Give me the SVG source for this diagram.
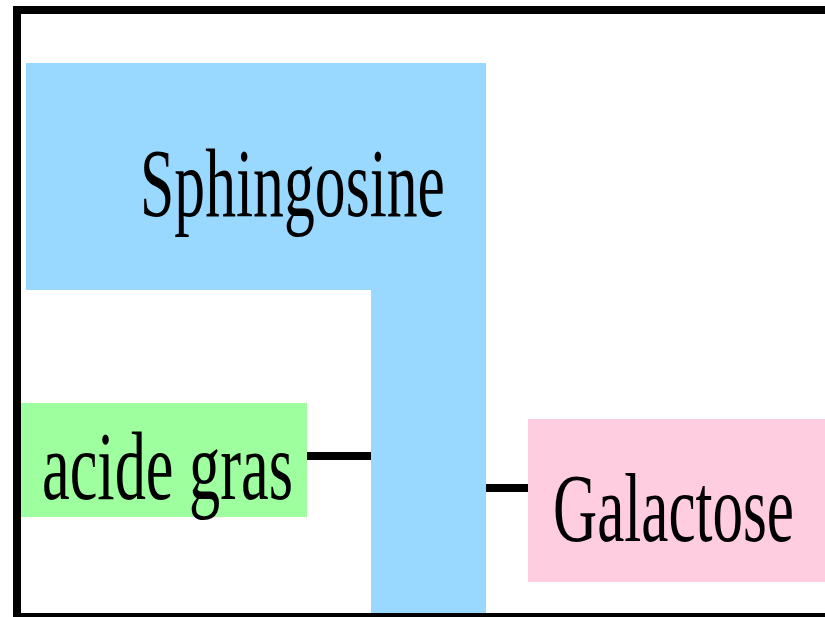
<svg xmlns="http://www.w3.org/2000/svg" width="825" height="617" viewBox="0 0 825 617">
<style>
.lbl{font-family:"Liberation Serif","Times New Roman",serif;font-size:98px;fill:#000}
.conn{stroke:#000;stroke-width:8;fill:none}
</style>
<rect x="0" y="0" width="825" height="617" fill="#fff"/>
<rect x="17" y="10" width="830" height="607" fill="#fff" stroke="#000" stroke-width="8"/>
<g id="sphingosine">
<path d="M26,63 H486 V613 H371 V290 H26 Z" fill="#99d9ff"/>
<text class="lbl" x="140" y="216" textLength="305" lengthAdjust="spacingAndGlyphs">Sphingosine</text>
</g>
<g id="acide-gras">
<rect x="21" y="403" width="286" height="114" fill="#9eff9e"/>
<text class="lbl" x="42" y="499" textLength="251" lengthAdjust="spacingAndGlyphs">acide gras</text>
</g>
<g id="galactose">
<rect x="528" y="419" width="297" height="163" fill="#ffcce0"/>
<text class="lbl" x="553" y="541" textLength="241" lengthAdjust="spacingAndGlyphs">Galactose</text>
</g>
<g id="connectors">
<line class="conn" x1="307" y1="456" x2="371" y2="456"/>
<line class="conn" x1="486" y1="488" x2="528" y2="488"/>
</g>
</svg>
